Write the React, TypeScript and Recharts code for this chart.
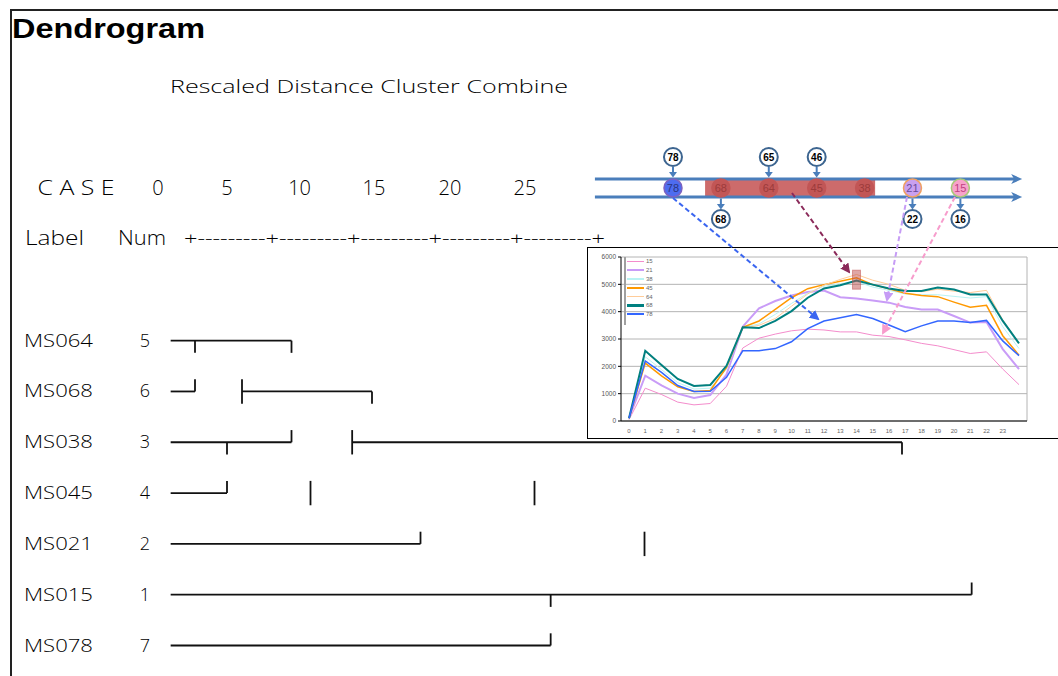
import React from 'react';
import {
  LineChart, Line, XAxis, YAxis, CartesianGrid, ReferenceLine, ReferenceDot,
  ReferenceArea, ScatterChart, Scatter,
} from 'recharts';

// ---- dendrogram (SPSS style) ----
const leafLabels = ['MS064', 'MS068', 'MS038', 'MS045', 'MS021', 'MS015', 'MS078'];
const leafNums = [5, 6, 3, 4, 2, 1, 7];
const scaleTicks = ['0', '5', '10', '15', '20', '25'];
// horizontal runs: [row, from, to] in rescaled distance
const branchRuns: [number, number, number][] = [
  [1, -0.76, 6.49], [2, -0.76, 0.7], [2, 3.52, 11.32], [3, -0.76, 6.49], [3, 10.13, 43.12],
  [4, -0.76, 2.62], [5, -0.76, 14.23], [6, -0.76, 47.3], [7, -0.76, 22.04],
];
// vertical stubs: [row, distance, direction]
const branchStubs: [number, number, string][] = [
  [1, 0.7, 'down'], [1, 6.49, 'down'], [2, 0.7, 'up'], [2, 3.52, 'both'], [2, 11.32, 'down'],
  [3, 6.49, 'up'], [3, 2.62, 'down'], [3, 10.13, 'both'], [3, 43.12, 'down'],
  [4, 2.62, 'up'], [4, 7.63, 'both'], [4, 21.07, 'both'], [5, 14.23, 'up'], [5, 27.67, 'both'],
  [6, 47.3, 'up'], [6, 22.04, 'down'], [7, 22.04, 'up'],
];

// ---- cluster order diagram ----
const caseOrder = ['78', '68', '64', '45', '38', '21', '15'];
const topTags = [[0, '78'], [2, '65'], [3, '46']] as [number, string][];
const bottomTags = [[1, '68'], [5, '22'], [6, '16']] as [number, string][];
const highlightSlots = [1, 4];

// ---- inset load profiles ----
const hourLabels = ['0', '1', '2', '3', '4', '5', '6', '7', '8', '9', '10', '11', '12', '13',
  '14', '15', '16', '17', '18', '19', '20', '21', '22', '23', ''];
const seriesNames = ['15', '21', '38', '45', '64', '68', '78'];
const load15 = [50, 1200, 970, 690, 590, 640, 1270, 2670, 3030, 3180, 3300, 3360, 3330, 3260, 3260, 3140, 3090, 2970, 2840, 2750, 2610, 2470, 2530, 1900, 1330];
const load21 = [100, 1660, 1300, 1000, 840, 950, 1700, 3450, 4120, 4390, 4590, 4720, 4770, 4530, 4480, 4410, 4330, 4170, 4080, 4080, 3840, 3600, 3620, 2630, 1900];
const load38 = [100, 2350, 1880, 1400, 1170, 1200, 1900, 3420, 3550, 3900, 4300, 4680, 4930, 5020, 5100, 4900, 4780, 4650, 4620, 4620, 4560, 4500, 4550, 3450, 2650];
const load45 = [100, 2120, 1650, 1250, 1080, 1115, 1960, 3430, 3660, 4080, 4510, 4840, 4990, 5110, 5240, 4990, 4840, 4670, 4590, 4550, 4350, 4160, 4230, 3120, 2410];
const load64 = [100, 2550, 2020, 1530, 1280, 1320, 2000, 3400, 3500, 3750, 4200, 4650, 4970, 5180, 5360, 5150, 5000, 4780, 4730, 4820, 4750, 4700, 4780, 3700, 2850];
const load68 = [100, 2570, 2050, 1540, 1285, 1320, 2020, 3430, 3400, 3660, 4020, 4510, 4850, 4970, 5140, 4990, 4850, 4760, 4760, 4880, 4810, 4630, 4630, 3660, 2840];
const load78 = [100, 2200, 1780, 1300, 1080, 1090, 1600, 2570, 2570, 2650, 2900, 3380, 3660, 3780, 3900, 3750, 3510, 3270, 3480, 3660, 3660, 3600, 3680, 2930, 2390];
const loads = [load15, load21, load38, load45, load64, load68, load78];
const highlightPoint = { hour: '14', value: 5170 };

const seriesColors = ['#f48ccc', '#c99cf7', '#b9f3f3', '#ff9900', '#ffcc99', '#008080', '#3366ff'];
const seriesWidths = [1, 2, 1, 1.5, 1, 2, 1.5];
const caseFills = ['#4d6cf0', '#c25656', '#c25656', '#c25656', '#c25656', '#c9a0f0', '#f7a3cb'];
const caseStrokes = ['#7b62c0', '#c25656', '#c25656', '#c25656', '#c25656', '#f0a060', '#a8c878'];
const caseText = ['#2a3580', '#9c3b3b', '#9c3b3b', '#9c3b3b', '#9c3b3b', '#6a4a9a', '#c04080'];

const GOTHIC = "'Open Sans', Lato, 'DejaVu Sans', sans-serif";
const ARIAL = "'Liberation Sans', Arial, sans-serif";

const profileData = hourLabels.map((h, i) => {
  const row: Record<string, any> = { hour: h };
  seriesNames.forEach((n, k) => { row['s' + n] = loads[k][i]; });
  return row;
});

const leafData = leafLabels.map((l, i) => ({ row: i + 1, label: l }));

const LeafTick = ({ y, payload }: any) => {
  const i = payload.value - 1;
  return (
    <g fontFamily={GOTHIC} fontWeight={300} fontSize={18} fill="#000">
      <text x={24} y={y + 6} textLength={69} lengthAdjust="spacingAndGlyphs">{leafLabels[i]}</text>
      <text x={145} y={y + 6} textAnchor="middle">{leafNums[i]}</text>
    </g>
  );
};

const STUB = 0.24;

const Dendrogram = () => (
  <LineChart width={1058} height={376} data={leafData} margin={{ top: 0, right: 58, bottom: 0, left: 0 }}>
    <XAxis type="number" dataKey="row" domain={[-2, 49]} allowDataOverflow hide />
    <YAxis type="number" dataKey="row" domain={[0.2, 7.6]} allowDataOverflow reversed width={150}
      ticks={[1, 2, 3, 4, 5, 6, 7]} axisLine={false} tickLine={false} tick={<LeafTick />} />
    {branchRuns.map(([r, a, b], i) => (
      <ReferenceLine key={'h' + i} segment={[{ x: a, y: r }, { x: b, y: r }]} stroke="#111" strokeWidth={1.8} ifOverflow="visible" />
    ))}
    {branchStubs.map(([r, x, d], i) => (
      <ReferenceLine key={'v' + i}
        segment={[{ x, y: d === 'down' ? r : r - STUB }, { x, y: d === 'up' ? r : r + STUB }]}
        stroke="#111" strokeWidth={1.8} ifOverflow="visible" />
    ))}
  </LineChart>
);

// diagram rows (vertical offsets inside the order diagram)
const ROW_TOP_TAG = 17, ROW_LINE_A = 39, ROW_CASE = 48, ROW_LINE_B = 57, ROW_BOTTOM_TAG = 79;
const AXIS_BLUE = '#4a7ebb';

const ArrowAxis = (p: any) => {
  const { x1, y1, x2, y2 } = p;
  return (
    <g>
      <line x1={x1} y1={y1} x2={x2 - 7} y2={y2} stroke={AXIS_BLUE} strokeWidth={3} />
      <polygon points={`${x2},${y2} ${x2 - 11},${y2 - 5} ${x2 - 8},${y2} ${x2 - 11},${y2 + 5}`} fill={AXIS_BLUE} />
    </g>
  );
};

const CaseBubble = ({ cx, cy, payload }: any) => {
  const i = payload.x;
  return (
    <g>
      <circle cx={cx} cy={cy} r={9} fill={caseFills[i]} stroke={caseStrokes[i]} strokeWidth={1.5} />
      <text x={cx} y={cy + 4} textAnchor="middle" fontSize={11} fontFamily={ARIAL} fill={caseText[i]}>{payload.label}</text>
    </g>
  );
};

const TagCircle = ({ cx, cy, label }: any) => (
  <g>
    <circle cx={cx} cy={cy} r={9} fill="#fff" stroke="#3d6590" strokeWidth={2} />
    <text x={cx} y={cy + 3.5} textAnchor="middle" fontSize={10} fontWeight="bold" fontFamily={ARIAL} fill="#000">{label}</text>
  </g>
);

const TopTag = ({ cx, cy, payload }: any) => (
  <g>
    <line x1={cx} y1={cy + 10} x2={cx} y2={cy + 16} stroke={AXIS_BLUE} strokeWidth={2} />
    <polygon points={`${cx - 4},${cy + 15} ${cx + 4},${cy + 15} ${cx},${cy + 20.5}`} fill={AXIS_BLUE} />
    <TagCircle cx={cx} cy={cy} label={payload.label} />
  </g>
);

const BottomTag = ({ cx, cy, payload }: any) => (
  <g>
    <line x1={cx} y1={cy - 20.5} x2={cx} y2={cy - 14} stroke={AXIS_BLUE} strokeWidth={2} />
    <polygon points={`${cx - 4},${cy - 15} ${cx + 4},${cy - 15} ${cx},${cy - 9.5}`} fill={AXIS_BLUE} />
    <TagCircle cx={cx} cy={cy} label={payload.label} />
  </g>
);

const OrderDiagram = () => (
  <ScatterChart width={473} height={100} margin={{ top: 0, right: 0, bottom: 0, left: 0 }}>
    <XAxis type="number" dataKey="x" domain={[-1.837, 8.038]} allowDataOverflow hide />
    <YAxis type="number" dataKey="y" domain={[0, 100]} allowDataOverflow reversed hide />
    <ReferenceLine segment={[{ x: -1.63, y: ROW_LINE_A }, { x: 7.29, y: ROW_LINE_A }]} shape={ArrowAxis} ifOverflow="visible" />
    <ReferenceLine segment={[{ x: -1.63, y: ROW_LINE_B }, { x: 7.29, y: ROW_LINE_B }]} shape={ArrowAxis} ifOverflow="visible" />
    <ReferenceArea x1={highlightSlots[0] - 0.33} x2={highlightSlots[1] + 0.22} y1={ROW_LINE_A - 0.5} y2={ROW_LINE_B + 1}
      fill="#cd6b6b" fillOpacity={1} stroke="none" ifOverflow="visible" />
    <Scatter data={caseOrder.map((c, i) => ({ x: i, y: ROW_CASE, label: c }))} shape={CaseBubble} isAnimationActive={false} />
    <Scatter data={topTags.map(([i, l]) => ({ x: i, y: ROW_TOP_TAG, label: l }))} shape={TopTag} isAnimationActive={false} />
    <Scatter data={bottomTags.map(([i, l]) => ({ x: i, y: ROW_BOTTOM_TAG, label: l }))} shape={BottomTag} isAnimationActive={false} />
  </ScatterChart>
);

const HighlightBox = ({ cx, cy }: any) => (
  <rect x={cx - 4} y={cy - 9.5} width={8} height={19} fill="#c0504d" fillOpacity={0.5} stroke="#c0504d" strokeOpacity={0.5} />
);

const ProfileInset = () => (
  <div style={{ position: 'absolute', left: 587, top: 247, width: 471, height: 192, boxSizing: 'border-box',
    borderTop: '1px solid #000', borderLeft: '1px solid #000', borderBottom: '1.5px solid #000', background: '#fff' }}>
    <LineChart width={470} height={190} data={profileData} margin={{ top: 9, right: 31, bottom: 0, left: 0 }}>
      <CartesianGrid stroke="#b4b4b4" vertical
        verticalCoordinatesGenerator={({ offset }: any) => [offset.left + offset.width]} />
      <XAxis dataKey="hour" interval={0} height={17} padding={{ left: 8, right: 8 }}
        tick={{ fontSize: 6, fill: '#666', fontFamily: ARIAL }} tickLine={false} axisLine={{ stroke: '#000' }} />
      <YAxis domain={[0, 6000]} ticks={[0, 1000, 2000, 3000, 4000, 5000, 6000]} width={33} tickSize={3}
        tick={{ fontSize: 6.5, fill: '#555', fontFamily: ARIAL }} axisLine={{ stroke: '#000' }} tickLine={{ stroke: '#000' }} />
      {seriesNames.map((n, k) => (
        <Line key={n} type="linear" dataKey={'s' + n} stroke={seriesColors[k]} strokeWidth={seriesWidths[k]}
          dot={false} isAnimationActive={false} />
      ))}
      <ReferenceDot x={highlightPoint.hour} y={highlightPoint.value} shape={HighlightBox} ifOverflow="visible" />
    </LineChart>
    <div style={{ position: 'absolute', left: 36, top: 9, borderLeft: '2px solid #a0a0a0', paddingLeft: 1, paddingBottom: 6 }}>
      {seriesNames.map((n, k) => (
        <div key={n} style={{ display: 'flex', alignItems: 'center', height: 8.8 }}>
          <div style={{ width: 17, height: seriesWidths[k] + 0.6, background: seriesColors[k] }} />
          <span style={{ fontSize: 6, marginLeft: 2, color: '#666', fontFamily: ARIAL, lineHeight: '6px' }}>{n}</span>
        </div>
      ))}
    </div>
  </div>
);

const scaleTickX = [158, 227, 299.6, 374, 450, 525];

export default function App() {
  return (
    <div style={{ position: 'absolute', left: 0, top: 0, width: 1058, height: 676, background: '#fff', overflow: 'hidden' }}>
      <div style={{ position: 'absolute', left: 10, top: 9, width: 1058, height: 676,
        borderTop: '2px solid #222', borderLeft: '2px solid #222' }} />
      <svg width={1058} height={300} style={{ position: 'absolute', left: 0, top: 0 }}>
        <text x={12} y={38} fontFamily={ARIAL} fontWeight="bold" fontSize={28} textLength={193} lengthAdjust="spacingAndGlyphs" fill="#000">Dendrogram</text>
        <g fontFamily={GOTHIC} fontWeight={300} fill="#000">
          <text x={170} y={93} fontSize={19} textLength={398} lengthAdjust="spacingAndGlyphs">Rescaled Distance Cluster Combine</text>
          <text x={37.5} y={195} fontSize={20} textLength={77} lengthAdjust="spacingAndGlyphs">C A S E</text>
          {scaleTicks.map((t, i) => (
            <text key={t} x={scaleTickX[i]} y={195} fontSize={20} textAnchor="middle">{t}</text>
          ))}
          <text x={25} y={245} fontSize={20} textLength={59} lengthAdjust="spacingAndGlyphs">Label</text>
          <text x={118} y={245} fontSize={20} textLength={48} lengthAdjust="spacingAndGlyphs">Num</text>
          <text x={184} y={245} fontSize={18} textLength={421} lengthAdjust="spacingAndGlyphs">+---------+---------+---------+---------+---------+</text>
        </g>
      </svg>
      <div style={{ position: 'absolute', left: 0, top: 300 }}>
        <Dendrogram />
      </div>
      <ProfileInset />
      <div style={{ position: 'absolute', left: 585, top: 140 }}>
        <OrderDiagram />
      </div>
      <svg width={1058} height={676} style={{ position: 'absolute', left: 0, top: 0, pointerEvents: 'none' }}>
        <defs>
          {['#3b66f0', '#8b2a5a', '#c69cf5', '#f79ccc'].map((c, i) => (
            <marker key={c} id={'ah' + i} viewBox="0 0 10 10" refX="8" refY="5" markerWidth="5" markerHeight="5" orient="auto">
              <path d="M0,0 L10,5 L0,10 z" fill={c} />
            </marker>
          ))}
        </defs>
        <line x1={673} y1={198} x2={818} y2={319} stroke="#3b66f0" strokeWidth={2} strokeDasharray="5 3" markerEnd="url(#ah0)" />
        <line x1={792} y1={193} x2={849} y2={272} stroke="#8b2a5a" strokeWidth={2} strokeDasharray="5 3" markerEnd="url(#ah1)" />
        <line x1={907} y1={197} x2={887} y2={300} stroke="#c69cf5" strokeWidth={2} strokeDasharray="5 3" markerEnd="url(#ah2)" />
        <line x1={955} y1={197} x2={883} y2={333} stroke="#f79ccc" strokeWidth={2} strokeDasharray="5 3" markerEnd="url(#ah3)" />
      </svg>
    </div>
  );
}
